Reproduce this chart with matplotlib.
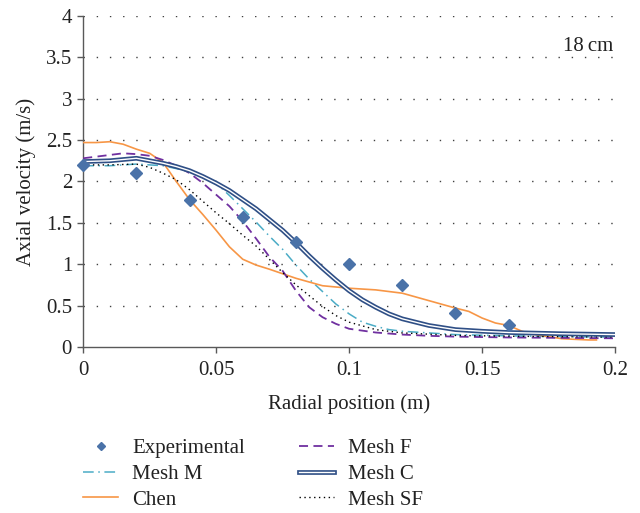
import matplotlib
matplotlib.use('Agg')
import matplotlib.pyplot as plt
import matplotlib.patheffects as pe
import numpy as np

plt.rcParams['font.family'] = ['Liberation Serif', 'DejaVu Serif']

# ── Data ──────────────────────────────────────────────────────────────────────

exp_r = [0.0, 0.02, 0.04, 0.06, 0.08, 0.10, 0.12, 0.14, 0.16]
exp_v = [2.20, 2.10, 1.77, 1.57, 1.27, 1.00, 0.75, 0.41, 0.26]

meshM_r = [0.0, 0.01, 0.02, 0.03, 0.04, 0.05, 0.055, 0.06, 0.065, 0.07, 0.075,
           0.08, 0.085, 0.09, 0.095, 0.10, 0.105, 0.11, 0.115, 0.12, 0.13,
           0.14, 0.16, 0.18, 0.20]
meshM_v = [2.19, 2.19, 2.21, 2.19, 2.12, 1.98, 1.83, 1.67, 1.51, 1.34, 1.18,
           0.99, 0.82, 0.67, 0.52, 0.40, 0.30, 0.25, 0.21, 0.19, 0.17,
           0.15, 0.135, 0.125, 0.12]

chen_r = [0.0, 0.005, 0.01, 0.015, 0.02, 0.025, 0.03, 0.035, 0.04, 0.045,
          0.05, 0.055, 0.06, 0.065, 0.07, 0.08, 0.09, 0.10, 0.11, 0.12,
          0.13, 0.14, 0.145, 0.15, 0.155, 0.16, 0.165, 0.17, 0.18, 0.19, 0.193]
chen_v = [2.47, 2.47, 2.48, 2.45, 2.39, 2.34, 2.23, 2.00, 1.78, 1.60,
          1.41, 1.21, 1.06, 0.99, 0.94, 0.83, 0.74, 0.71, 0.69, 0.65,
          0.56, 0.47, 0.43, 0.35, 0.29, 0.26, 0.19, 0.15, 0.10, 0.085, 0.085]

meshF_r = [0.0, 0.01, 0.015, 0.02, 0.025, 0.03, 0.035, 0.04, 0.045, 0.05,
           0.055, 0.06, 0.065, 0.07, 0.075, 0.08, 0.085, 0.09, 0.095, 0.10,
           0.11, 0.12, 0.13, 0.14, 0.16, 0.18, 0.20]
meshF_v = [2.28, 2.32, 2.34, 2.33, 2.31, 2.26, 2.19, 2.10, 1.98, 1.84,
           1.70, 1.52, 1.31, 1.09, 0.92, 0.68, 0.48, 0.36, 0.28, 0.22,
           0.175, 0.15, 0.135, 0.125, 0.115, 0.11, 0.105]

meshC_r = [0.0, 0.01, 0.02, 0.025, 0.03, 0.035, 0.04, 0.045, 0.05, 0.055,
           0.06, 0.065, 0.07, 0.075, 0.08, 0.085, 0.09, 0.095, 0.10, 0.105,
           0.11, 0.115, 0.12, 0.13, 0.14, 0.15, 0.16, 0.18, 0.20]
meshC_v = [2.24, 2.25, 2.28, 2.25, 2.22, 2.18, 2.13, 2.06, 1.98, 1.89,
           1.78, 1.67, 1.54, 1.41, 1.26, 1.10, 0.95, 0.81, 0.68, 0.57,
           0.48, 0.40, 0.34, 0.26, 0.21, 0.19, 0.175, 0.16, 0.15]

meshSF_r = [0.0, 0.01, 0.02, 0.025, 0.03, 0.035, 0.04, 0.045, 0.05, 0.055,
            0.06, 0.065, 0.07, 0.075, 0.08, 0.085, 0.09, 0.095, 0.10, 0.11,
            0.12, 0.14, 0.16, 0.18, 0.20]
meshSF_v = [2.20, 2.20, 2.21, 2.17, 2.10, 2.02, 1.90, 1.76, 1.62, 1.49,
            1.35, 1.22, 1.06, 0.90, 0.75, 0.62, 0.49, 0.38, 0.30, 0.21,
            0.17, 0.14, 0.13, 0.125, 0.12]

x_ticks = [0, 0.05, 0.1, 0.15, 0.2]
x_ticklabels = ['0', '0.05', '0.1', '0.15', '0.2']
y_ticks = [0, 0.5, 1, 1.5, 2, 2.5, 3, 3.5, 4]
y_ticklabels = ['0', '0.5', '1', '1.5', '2', '2.5', '3', '3.5', '4']

# ── Figure ────────────────────────────────────────────────────────────────────

fig = plt.figure(figsize=(6.4, 5.13), dpi=100)
ax = fig.add_axes([0.13, 0.3236, 0.831, 0.6454])

AX_COL = '#595959'
TXT_COL = '#222222'
FS = 15

# dotted horizontal grid
for yv in y_ticks[1:]:
    ax.axhline(yv, color='#404040', lw=1.0, linestyle=(0, (1, 8.5)), zorder=0)

ax.plot(meshM_r, meshM_v, color='#4BACC6', lw=1.1,
        linestyle=(0, (7, 3, 1, 3)), label='Mesh M', zorder=3)
ax.plot(chen_r, chen_v, color='#F79646', lw=1.2, label='Chen', zorder=3)
ax.plot(meshF_r, meshF_v, color='#7030A0', lw=1.3,
        linestyle=(0, (5, 3)), label='Mesh F', zorder=3)
ax.plot(meshC_r, meshC_v, color='white', lw=1.0, label='Mesh C', zorder=4,
        path_effects=[pe.Stroke(linewidth=3.4, foreground='#2F4F86'), pe.Normal()])
ax.plot(meshSF_r, meshSF_v, color='black', lw=1.0,
        linestyle=(0, (1, 2.5)), label='Mesh SF', zorder=3)
ax.plot(exp_r, exp_v, linestyle='none', marker='D', markersize=6,
        color='#4A72A8', label='Experimental', zorder=5, clip_on=False)

ax.set_xlim(0, 0.2)
ax.set_ylim(0, 4)
ax.set_xticks(x_ticks)
ax.set_xticklabels(x_ticklabels)
ax.set_yticks(y_ticks)
ax.set_yticklabels(y_ticklabels)
ax.tick_params(axis='both', labelsize=FS, colors=AX_COL, labelcolor=TXT_COL,
               direction='out', width=1.0)
ax.tick_params(axis='x', length=4, pad=6)
ax.tick_params(axis='y', length=4, pad=4)
for side in ['top', 'right']:
    ax.spines[side].set_visible(False)
for side in ['left', 'bottom']:
    ax.spines[side].set_color(AX_COL)
    ax.spines[side].set_linewidth(1.0)

ax.set_xlabel('Radial position (m)', fontsize=FS, color=TXT_COL, labelpad=10)
ax.set_ylabel('Axial velocity (m/s)', fontsize=FS, color=TXT_COL, labelpad=7)

ax.text(0.1992, 3.63, '18\u2009cm', fontsize=FS, color=TXT_COL,
        ha='right', va='center')

# legend below the axes, two columns
h, l = ax.get_legend_handles_labels()
order = ['Experimental', 'Mesh M', 'Chen', 'Mesh F', 'Mesh C', 'Mesh SF']
hl = dict(zip(l, h))
fig.legend([hl[k] for k in order], order, loc='upper left',
           bbox_to_anchor=(0.1004, 0.182), ncol=2, frameon=False,
           fontsize=FS, handlelength=1.7, handletextpad=0.65,
           columnspacing=2.6, labelspacing=0.3, labelcolor=TXT_COL,
           markerscale=0.75)

fig.savefig('out.png', dpi=100)
